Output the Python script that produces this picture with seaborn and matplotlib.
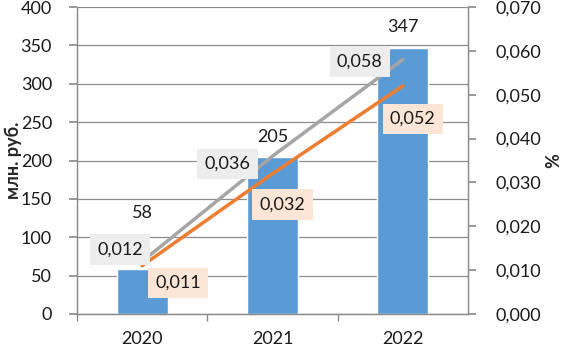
import numpy as np
import pandas as pd
import matplotlib
matplotlib.use("Agg")
import matplotlib.pyplot as plt
import seaborn as sns

years = ["2020", "2021", "2022"]
values = [58, 205, 347]
share_gray = [0.012, 0.036, 0.058]
share_orange = [0.011, 0.032, 0.052]
left_ticks = [0, 50, 100, 150, 200, 250, 300, 350, 400]
right_ticks = [0.0, 0.01, 0.02, 0.03, 0.04, 0.05, 0.06, 0.07]

sns.set_theme(style="white")
plt.rcParams['font.family'] = ['Lato', 'DejaVu Sans']

BLUE = "#5B9BD5"
GRAY = "#A5A5A5"
ORANGE = "#ED7D31"
AXC = "#8C8C8C"
FS = 13

fig = plt.figure(figsize=(5.62, 3.48), dpi=100)
ax_w = (468 - 77)
ax = fig.add_axes([77/562, 1-314/348, ax_w/562, (314-7)/348])

df = pd.DataFrame({"year": years, "value": values})
sns.barplot(data=df, x="year", y="value", color=BLUE, saturation=1, width=0.39, ax=ax, zorder=2)

ax.set_ylim(0, 400)
ax.set_xlim(-0.5, 2.5)
ax.set_yticks(left_ticks)
ax.set_yticklabels([str(t) for t in left_ticks], fontsize=FS, color="#1a1a1a")
ax.yaxis.grid(True, color=AXC, linewidth=0.9, zorder=0)
ax.set_axisbelow(True)
ax.tick_params(axis="y", which="major", length=6, color=AXC, pad=12, left=True)
ax.tick_params(axis="x", which="major", length=0, pad=12, labelsize=FS, labelcolor="#1a1a1a")
ax.set_xticks(np.arange(len(years)) - 0.5, minor=True)
ax.tick_params(axis="x", which="minor", length=5, color=AXC, bottom=True)
ax.set_xlabel("")
ax.set_ylabel("млн. руб.", fontsize=FS, fontweight="bold", va="center")
ax.yaxis.set_label_coords((13 - 77) / ax_w, 0.5)
ax.spines["top"].set_visible(False)
for s in ["left", "bottom", "right"]:
    ax.spines[s].set_color(AXC)
    ax.spines[s].set_linewidth(0.9)

# bar labels
label_offsets = [56, 20, 21]
for i, v in enumerate(values):
    ax.annotate(str(v), (i, v), xytext=(0, label_offsets[i]), textcoords="offset pixels",
                ha="center", va="center", fontsize=FS, color="#1a1a1a", zorder=5)

ax2 = ax.twinx()
pos = np.arange(len(years))
ldf = pd.DataFrame({"x": np.concatenate([pos, pos]),
                    "y": share_gray + share_orange,
                    "s": ["gray"] * 3 + ["orange"] * 3})
sns.lineplot(data=ldf, x="x", y="y", hue="s", palette={"gray": GRAY, "orange": ORANGE},
             linewidth=2.5, legend=False, ax=ax2, zorder=3)
ax2.set_ylim(0, 0.07)
ax2.set_xlim(-0.5, 2.5)
ax2.set_yticks(right_ticks)
ax2.set_yticklabels([f"{t:.3f}".replace(".", ",") for t in right_ticks], fontsize=FS, color="#1a1a1a")
ax2.tick_params(axis="y", length=6, color=AXC, pad=14, right=True)
ax2.set_ylabel("%", fontsize=FS, fontweight="bold", va="center")
ax2.yaxis.set_label_coords((554 - 77) / ax_w, 0.5)
ax2.set_xlabel("")
ax2.spines["top"].set_visible(False)
for s in ["left", "bottom", "right"]:
    ax2.spines[s].set_color(AXC)
    ax2.spines[s].set_linewidth(0.9)

# line labels (offsets in pixels from the data point)
gray_off = [(-22, 12), (-45, -8), (-43, -2)]
orange_off = [(36, -17), (10, -31), (10, -33)]
box = "square,pad=0.4"
for i, v in enumerate(share_gray):
    ax2.annotate(f"{v:.3f}".replace(".", ","), (i, v), xytext=gray_off[i], textcoords="offset pixels",
                 ha="center", va="center", fontsize=FS, color="#1a1a1a", zorder=6,
                 bbox=dict(boxstyle=box, fc="#EDEDED", ec="none"))
for i, v in enumerate(share_orange):
    ax2.annotate(f"{v:.3f}".replace(".", ","), (i, v), xytext=orange_off[i], textcoords="offset pixels",
                 ha="center", va="center", fontsize=FS, color="#1a1a1a", zorder=6,
                 bbox=dict(boxstyle=box, fc="#FBE5D6", ec="none"))

fig.savefig("out.png", dpi=100)
